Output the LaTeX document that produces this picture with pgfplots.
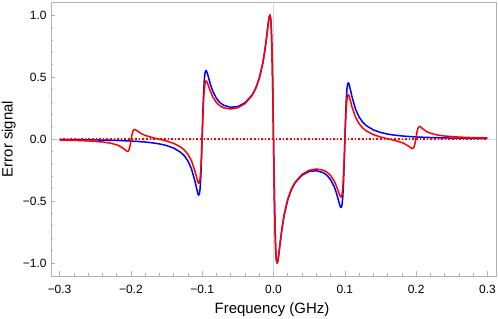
\documentclass[border=0pt]{standalone}
\usepackage{fontspec}
\setmainfont{Liberation Sans}
\usepackage{pgfplots}
\pgfplotsset{compat=1.18}
\begin{document}
\begin{tikzpicture}
\useasboundingbox (-51bp,-43bp) rectangle (447bp,276bp);
\begin{axis}[
  scale only axis, width=445bp, height=274bp,
  xmin=-0.312, xmax=0.312, ymin=-1.105, ymax=1.105,
  axis line style={gray!60, line width=0.8bp},
  xtick={-0.3,-0.2,-0.1,0,0.1,0.2,0.3},
  xticklabels={−0.3,−0.2,−0.1,0.0,0.1,0.2,0.3},
  ytick={-1,-0.5,0,0.5,1},
  yticklabels={−1.0,−0.5,0.0,0.5,1.0},
  minor x tick num=4, minor y tick num=4,
  tick align=inside, xtick pos=bottom, ytick pos=left,
  major tick length=4.5bp, minor tick length=2.5bp,
  tick style={gray!60, line width=0.6bp},
  xticklabel style={font=\fontsize{12}{14}\selectfont, anchor=base, yshift=-17.3bp, inner sep=0pt},
  yticklabel style={font=\fontsize{12}{14}\selectfont, anchor=east, xshift=-4.3bp, inner sep=0pt},
  extra x ticks={0}, extra y ticks={0}, extra x tick labels={}, extra y tick labels={},
  extra tick style={grid=major, major grid style={gray!30, line width=0.6bp}},
  clip=true,
]
\addplot[blue, line width=1.5bp, line join=round, no markers] coordinates {
(-0.30,-0.0042) (-0.28,-0.0052) (-0.26,-0.0066) (-0.24,-0.0087) (-0.23,-0.0101) (-0.22,-0.0118) (-0.21,-0.0139) (-0.20,-0.0166) (-0.19,-0.0201) (-0.18,-0.0246) (-0.17,-0.0308) (-0.16,-0.0396) (-0.15,-0.0527) (-0.14,-0.0732) (-0.13,-0.1081) (-0.125,-0.1361) (-0.12,-0.1772) (-0.115,-0.2408) (-0.11,-0.3422) (-0.108,-0.3941) (-0.106,-0.4413) (-0.105,-0.4531) (-0.104,-0.4456) (-0.103,-0.4046) (-0.102,-0.3140) (-0.101,-0.1659) (-0.100,0.0250) (-0.099,0.2191) (-0.098,0.3767) (-0.097,0.4797) (-0.096,0.5332) (-0.095,0.5518) (-0.094,0.5492) (-0.093,0.5349) (-0.092,0.5153) (-0.090,0.4722) (-0.088,0.4323) (-0.085,0.3834) (-0.080,0.3275) (-0.075,0.2932) (-0.070,0.2723) (-0.060,0.2555) (-0.050,0.2620) (-0.040,0.2918) (-0.030,0.3551) (-0.025,0.4090) (-0.020,0.4890) (-0.015,0.6126) (-0.012,0.7191) (-0.010,0.8066) (-0.008,0.9033) (-0.007,0.9490) (-0.006,0.9855) (-0.005,1.0009) (-0.004,0.9756) (-0.003,0.8820) (-0.002,0.6890) (-0.001,0.3841) (0,0)
(0.001,-0.3841) (0.002,-0.6890) (0.003,-0.8820) (0.004,-0.9756) (0.005,-1.0009) (0.006,-0.9855) (0.007,-0.9490) (0.008,-0.9033) (0.010,-0.8066) (0.012,-0.7191) (0.015,-0.6126) (0.020,-0.4890) (0.025,-0.4090) (0.030,-0.3551) (0.040,-0.2918) (0.050,-0.2620) (0.060,-0.2555) (0.070,-0.2723) (0.075,-0.2932) (0.080,-0.3275) (0.085,-0.3834) (0.088,-0.4323) (0.090,-0.4722) (0.092,-0.5153) (0.093,-0.5349) (0.094,-0.5492) (0.095,-0.5518) (0.096,-0.5332) (0.097,-0.4797) (0.098,-0.3767) (0.099,-0.2191) (0.100,-0.0250) (0.101,0.1659) (0.102,0.3140) (0.103,0.4046) (0.104,0.4456) (0.105,0.4531) (0.106,0.4413) (0.108,0.3941) (0.110,0.3422) (0.115,0.2408) (0.120,0.1772) (0.125,0.1361) (0.130,0.1081) (0.140,0.0732) (0.150,0.0527) (0.160,0.0396) (0.170,0.0308) (0.180,0.0246) (0.190,0.0201) (0.200,0.0166) (0.210,0.0139) (0.220,0.0118) (0.230,0.0101) (0.240,0.0087) (0.260,0.0066) (0.280,0.0052) (0.300,0.0042)
};
\addplot[red, line width=1.5bp, line join=round, no markers] coordinates {
(-0.30,-0.0082) (-0.28,-0.0109) (-0.26,-0.0154) (-0.24,-0.0239) (-0.23,-0.0319) (-0.22,-0.0464) (-0.215,-0.0590) (-0.21,-0.0785) (-0.208,-0.0884) (-0.206,-0.0975) (-0.205,-0.0999) (-0.204,-0.0989) (-0.203,-0.0919) (-0.202,-0.0760) (-0.201,-0.0496) (-0.200,-0.0158) (-0.199,0.0187) (-0.198,0.0467) (-0.197,0.0649) (-0.196,0.0741) (-0.195,0.0770) (-0.194,0.0761) (-0.192,0.0693) (-0.190,0.0605) (-0.185,0.0419) (-0.180,0.0290) (-0.170,0.0116) (-0.160,-0.0020) (-0.150,-0.0164) (-0.140,-0.0354) (-0.130,-0.0654) (-0.125,-0.0889) (-0.120,-0.1232) (-0.115,-0.1762) (-0.110,-0.2611) (-0.108,-0.3050) (-0.106,-0.3460) (-0.105,-0.3572) (-0.104,-0.3529) (-0.103,-0.3215) (-0.102,-0.2494) (-0.101,-0.1295) (-0.100,0.0265) (-0.099,0.1864) (-0.098,0.3175) (-0.097,0.4043) (-0.096,0.4505) (-0.095,0.4678) (-0.094,0.4674) (-0.093,0.4571) (-0.092,0.4421) (-0.090,0.4085) (-0.088,0.3770) (-0.085,0.3382) (-0.080,0.2941) (-0.075,0.2674) (-0.070,0.2518) (-0.060,0.2418) (-0.050,0.2525) (-0.040,0.2852) (-0.030,0.3506) (-0.025,0.4054) (-0.020,0.4862) (-0.015,0.6105) (-0.012,0.7174) (-0.010,0.8052) (-0.008,0.9022) (-0.007,0.9481) (-0.006,0.9847) (-0.005,1.0001) (-0.004,0.9750) (-0.003,0.8815) (-0.002,0.6886) (-0.001,0.3839) (0,0)
(0.001,-0.3839) (0.002,-0.6886) (0.003,-0.8815) (0.004,-0.9750) (0.005,-1.0001) (0.006,-0.9847) (0.007,-0.9481) (0.008,-0.9022) (0.010,-0.8052) (0.012,-0.7174) (0.015,-0.6105) (0.020,-0.4862) (0.025,-0.4054) (0.030,-0.3506) (0.040,-0.2852) (0.050,-0.2525) (0.060,-0.2418) (0.070,-0.2518) (0.075,-0.2674) (0.080,-0.2941) (0.085,-0.3382) (0.088,-0.3770) (0.090,-0.4085) (0.092,-0.4421) (0.093,-0.4571) (0.094,-0.4674) (0.095,-0.4678) (0.096,-0.4505) (0.097,-0.4043) (0.098,-0.3175) (0.099,-0.1864) (0.100,-0.0265) (0.101,0.1295) (0.102,0.2494) (0.103,0.3215) (0.104,0.3529) (0.105,0.3572) (0.106,0.3460) (0.108,0.3050) (0.110,0.2611) (0.115,0.1762) (0.120,0.1232) (0.125,0.0889) (0.130,0.0654) (0.140,0.0354) (0.150,0.0164) (0.160,0.0020) (0.170,-0.0116) (0.180,-0.0290) (0.185,-0.0419) (0.190,-0.0605) (0.192,-0.0693) (0.194,-0.0761) (0.195,-0.0770) (0.196,-0.0741) (0.197,-0.0649) (0.198,-0.0467) (0.199,-0.0187) (0.200,0.0158) (0.201,0.0496) (0.202,0.0760) (0.203,0.0919) (0.204,0.0989) (0.205,0.0999) (0.206,0.0975) (0.208,0.0884) (0.210,0.0785) (0.215,0.0590) (0.220,0.0464) (0.230,0.0319) (0.240,0.0239) (0.260,0.0154) (0.280,0.0109) (0.300,0.0082)
};
\addplot[red, line width=1.3bp, dash pattern=on 1.6bp off 2bp, no markers] coordinates {(-0.3,0) (0.3,0)};
\end{axis}
\node[font=\fontsize{15}{18}\selectfont, anchor=base, inner sep=0pt] at (221bp,-37.7bp) {Frequency (GHz)};
\node[font=\fontsize{15}{18}\selectfont, rotate=90, anchor=north, inner sep=0pt] at (-49.5bp,137bp) {Error signal};
\end{tikzpicture}
\end{document}
